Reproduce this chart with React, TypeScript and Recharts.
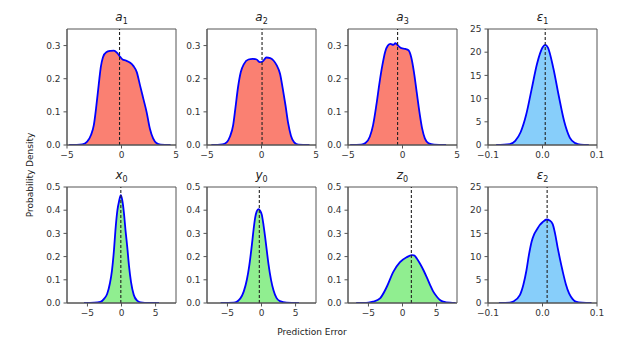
import React from 'react';
import { ComposedChart, Area, XAxis, YAxis, ReferenceLine, ReferenceArea } from 'recharts';

// ---- data ----
const a1X = [-4.8, -3.6, -3.15, -2.8, -2.54, -2.3, -2.08, -1.9, -1.7, -1.4, -1.0, -0.7, -0.4, -0.1, 0.1, 0.4, 0.8, 1.1, 1.4, 1.7, 2.0, 2.3, 2.6, 2.9, 3.2, 3.6, 4.5];
const a1Y = [0, 0.002, 0.01, 0.03, 0.06, 0.12, 0.185, 0.235, 0.265, 0.28, 0.284, 0.285, 0.278, 0.265, 0.258, 0.255, 0.248, 0.238, 0.22, 0.18, 0.14, 0.1, 0.05, 0.02, 0.006, 0.001, 0];

const a2X = [-4.6, -3.6, -3.2, -2.9, -2.6, -2.4, -2.15, -1.9, -1.6, -1.2, -0.8, -0.45, -0.15, 0.1, 0.45, 0.8, 1.1, 1.4, 1.7, 1.95, 2.2, 2.45, 2.7, 3.0, 3.4, 4.4];
const a2Y = [0, 0.002, 0.008, 0.025, 0.06, 0.11, 0.175, 0.22, 0.245, 0.258, 0.26, 0.258, 0.25, 0.252, 0.264, 0.262, 0.255, 0.24, 0.215, 0.17, 0.12, 0.065, 0.028, 0.008, 0.001, 0];

const a3X = [-4.8, -3.8, -3.4, -3.0, -2.7, -2.4, -2.1, -1.85, -1.6, -1.35, -1.1, -0.85, -0.65, -0.4, -0.1, 0.25, 0.55, 0.8, 1.05, 1.3, 1.55, 1.8, 2.05, 2.4, 2.9, 4.0];
const a3Y = [0, 0.001, 0.006, 0.025, 0.06, 0.12, 0.19, 0.24, 0.28, 0.3, 0.305, 0.302, 0.307, 0.3, 0.292, 0.29, 0.286, 0.265, 0.22, 0.16, 0.1, 0.05, 0.02, 0.005, 0.001, 0];

const e1X = [-0.085, -0.06, -0.05, -0.04, -0.03, -0.02, -0.01, 0, 0.005, 0.01, 0.02, 0.03, 0.04, 0.05, 0.06, 0.07, 0.085];
const e1Y = [0, 0.2, 0.9, 2.8, 6.5, 12, 17.5, 21, 21.6, 21, 16.5, 10.5, 5, 1.6, 0.4, 0.05, 0];

const x0X = [-5.5, -4, -3.1, -2.5, -2.1, -1.7, -1.4, -1.1, -0.9, -0.6, -0.35, -0.1, 0.1, 0.35, 0.6, 0.85, 1.1, 1.4, 1.8, 2.3, 2.8, 4, 5.5];
const x0Y = [0, 0.001, 0.005, 0.02, 0.04, 0.085, 0.14, 0.23, 0.31, 0.4, 0.44, 0.465, 0.445, 0.39, 0.31, 0.24, 0.16, 0.09, 0.035, 0.01, 0.003, 0, 0];

const y0X = [-6, -4.1, -3.1, -2.6, -2.15, -1.8, -1.4, -1.15, -0.93, -0.7, -0.44, -0.2, 0.05, 0.3, 0.54, 0.8, 1.02, 1.4, 1.76, 2.2, 2.7, 3.7, 5.5];
const y0Y = [0, 0.001, 0.02, 0.05, 0.1, 0.16, 0.254, 0.32, 0.368, 0.395, 0.405, 0.398, 0.38, 0.335, 0.283, 0.22, 0.169, 0.1, 0.055, 0.022, 0.008, 0.001, 0];

const z0X = [-6.8, -5, -4.3, -3.3, -2.3, -1.35, -0.37, 0.6, 1.35, 1.7, 2.1, 2.6, 3.1, 3.6, 4.06, 4.5, 5.05, 5.5, 6.0, 7, 7.8];
const z0Y = [0, 0.002, 0.006, 0.02, 0.07, 0.134, 0.176, 0.197, 0.206, 0.205, 0.192, 0.168, 0.14, 0.108, 0.077, 0.05, 0.027, 0.013, 0.006, 0.001, 0];

const e2X = [-0.08, -0.06, -0.0536, -0.0416, -0.035, -0.0295, -0.025, -0.02, -0.015, -0.01, -0.005, 0, 0.0078, 0.013, 0.0187, 0.023, 0.0277, 0.032, 0.0367, 0.043, 0.049, 0.055, 0.061, 0.073, 0.09];
const e2Y = [0, 0.1, 0.3, 1.7, 4, 7, 10.3, 13.2, 14.9, 15.9, 16.8, 17.4, 18, 17.8, 17, 15, 12, 9.5, 7, 4, 2, 0.9, 0.3, 0.05, 0];

// reference (dashed) lines
const refLines = { a1: -0.18, a2: 0.05, a3: -0.45, e1: 0.005, x0: -0.1, y0: -0.32, z0: 1.3, e2: 0.0085 };

// ticks
const aXTicks = [-5, 0, 5];
const aYTicks = [0, 0.1, 0.2, 0.3];
const eXTicks = [-0.1, 0, 0.1];
const eYTicks = [0, 5, 10, 15, 20, 25];
const bXTicks = [-5, 0, 5];
const bYTicks = [0, 0.1, 0.2, 0.3, 0.4, 0.5];

const SALMON = '#FA8072';
const GREEN = '#90EE90';
const SKY = '#87CEFA';
const BLUE = '#0000FF';
const AXIS = '#555';
const FONT = '"DejaVu Sans", sans-serif';

const minus = (s: string) => s.replace('-', '\u2212');
const fmtInt = (v: number) => minus(String(v));
const fmt1 = (v: number) => minus(v.toFixed(1));

const PLOT_W = 109;
const PLOT_H = 116;
const YW = 40;
const MT = 5;
const MR = 14;
const XH = 24;

type PanelProps = {
  xs: number[]; ys: number[]; xDomain: [number, number]; yDomain: [number, number];
  xTicks: number[]; yTicks: number[]; xFmt: (v: number) => string; yFmt: (v: number) => string;
  fill: string; refX: number; left: number; top: number; title: React.ReactNode;
};

function Panel(p: PanelProps) {
  const data = p.xs.map((x, i) => ({ x, y: p.ys[i] }));
  const tickStyle = { fontSize: 9, fill: '#333', fontFamily: FONT };
  return (
    <>
      <div style={{ position: 'absolute', left: p.left, top: p.top - MT }}>
        <ComposedChart width={YW + PLOT_W + MR} height={MT + PLOT_H + XH} data={data}
          margin={{ top: MT, right: MR, left: 0, bottom: 0 }}>
          <XAxis dataKey="x" type="number" domain={p.xDomain} ticks={p.xTicks} tickFormatter={p.xFmt}
            allowDataOverflow height={XH} tick={tickStyle} stroke={AXIS} tickSize={3.5} tickMargin={3}
            interval={0} />
          <YAxis type="number" domain={p.yDomain} ticks={p.yTicks} tickFormatter={p.yFmt}
            allowDataOverflow width={YW} tick={tickStyle} stroke={AXIS} tickSize={3.5} tickMargin={3}
            interval={0} />
          <Area type="monotone" dataKey="y" stroke={BLUE} strokeWidth={1.8} fill={p.fill} fillOpacity={1}
            isAnimationActive={false} dot={false} activeDot={false} />
          <ReferenceLine x={p.refX} stroke="#222" strokeDasharray="3 2" strokeWidth={1.1} />
          <ReferenceArea x1={p.xDomain[0]} x2={p.xDomain[1]} y1={p.yDomain[0]} y2={p.yDomain[1]}
            fill="none" fillOpacity={0} stroke={AXIS} strokeWidth={1} />
        </ComposedChart>
      </div>
      <div style={{ position: 'absolute', left: p.left + YW, width: PLOT_W, top: p.top - 19, textAlign: 'center',
        fontFamily: FONT, fontSize: 12, fontStyle: 'italic', color: '#222', lineHeight: '14px' }}>
        {p.title}
      </div>
    </>
  );
}

const T = (base: string, sub: string) => (
  <span>{base}<sub style={{ fontSize: 8, fontStyle: 'normal', verticalAlign: 'baseline', position: 'relative', top: 3 }}>{sub}</sub></span>
);

const COLS = [67, 207, 348, 488];
const ROW1 = 29;
const ROW2 = 187;

export default function App() {
  return (
    <div style={{ position: 'absolute', left: 0, top: 0, width: 624, height: 349, background: '#fff', overflow: 'hidden' }}>
      <Panel xs={a1X} ys={a1Y} xDomain={[-5, 5]} yDomain={[0, 0.35]} xTicks={aXTicks} yTicks={aYTicks}
        xFmt={fmtInt} yFmt={fmt1} fill={SALMON} refX={refLines.a1} left={COLS[0] - YW} top={ROW1} title={T('a', '1')} />
      <Panel xs={a2X} ys={a2Y} xDomain={[-5, 5]} yDomain={[0, 0.35]} xTicks={aXTicks} yTicks={aYTicks}
        xFmt={fmtInt} yFmt={fmt1} fill={SALMON} refX={refLines.a2} left={COLS[1] - YW} top={ROW1} title={T('a', '2')} />
      <Panel xs={a3X} ys={a3Y} xDomain={[-5, 5]} yDomain={[0, 0.35]} xTicks={aXTicks} yTicks={aYTicks}
        xFmt={fmtInt} yFmt={fmt1} fill={SALMON} refX={refLines.a3} left={COLS[2] - YW} top={ROW1} title={T('a', '3')} />
      <Panel xs={e1X} ys={e1Y} xDomain={[-0.1, 0.1]} yDomain={[0, 25]} xTicks={eXTicks} yTicks={eYTicks}
        xFmt={fmt1} yFmt={fmtInt} fill={SKY} refX={refLines.e1} left={COLS[3] - YW} top={ROW1} title={T('ε', '1')} />

      <Panel xs={x0X} ys={x0Y} xDomain={[-8, 8]} yDomain={[0, 0.5]} xTicks={bXTicks} yTicks={bYTicks}
        xFmt={fmtInt} yFmt={fmt1} fill={GREEN} refX={refLines.x0} left={COLS[0] - YW} top={ROW2} title={T('x', '0')} />
      <Panel xs={y0X} ys={y0Y} xDomain={[-8, 8]} yDomain={[0, 0.5]} xTicks={bXTicks} yTicks={bYTicks}
        xFmt={fmtInt} yFmt={fmt1} fill={GREEN} refX={refLines.y0} left={COLS[1] - YW} top={ROW2} title={T('y', '0')} />
      <Panel xs={z0X} ys={z0Y} xDomain={[-8, 8]} yDomain={[0, 0.5]} xTicks={bXTicks} yTicks={bYTicks}
        xFmt={fmtInt} yFmt={fmt1} fill={GREEN} refX={refLines.z0} left={COLS[2] - YW} top={ROW2} title={T('z', '0')} />
      <Panel xs={e2X} ys={e2Y} xDomain={[-0.1, 0.1]} yDomain={[0, 25]} xTicks={eXTicks} yTicks={eYTicks}
        xFmt={fmt1} yFmt={fmtInt} fill={SKY} refX={refLines.e2} left={COLS[3] - YW} top={ROW2} title={T('ε', '2')} />

      <div style={{ position: 'absolute', left: 30, top: 175, transform: 'translate(-50%, -50%) rotate(-90deg)',
        whiteSpace: 'nowrap', fontFamily: FONT, fontSize: 9, color: '#222' }}>Probability Density</div>
      <div style={{ position: 'absolute', left: 312, top: 332, transform: 'translate(-50%, -50%)',
        whiteSpace: 'nowrap', fontFamily: FONT, fontSize: 9, color: '#222' }}>Prediction Error</div>
    </div>
  );
}
